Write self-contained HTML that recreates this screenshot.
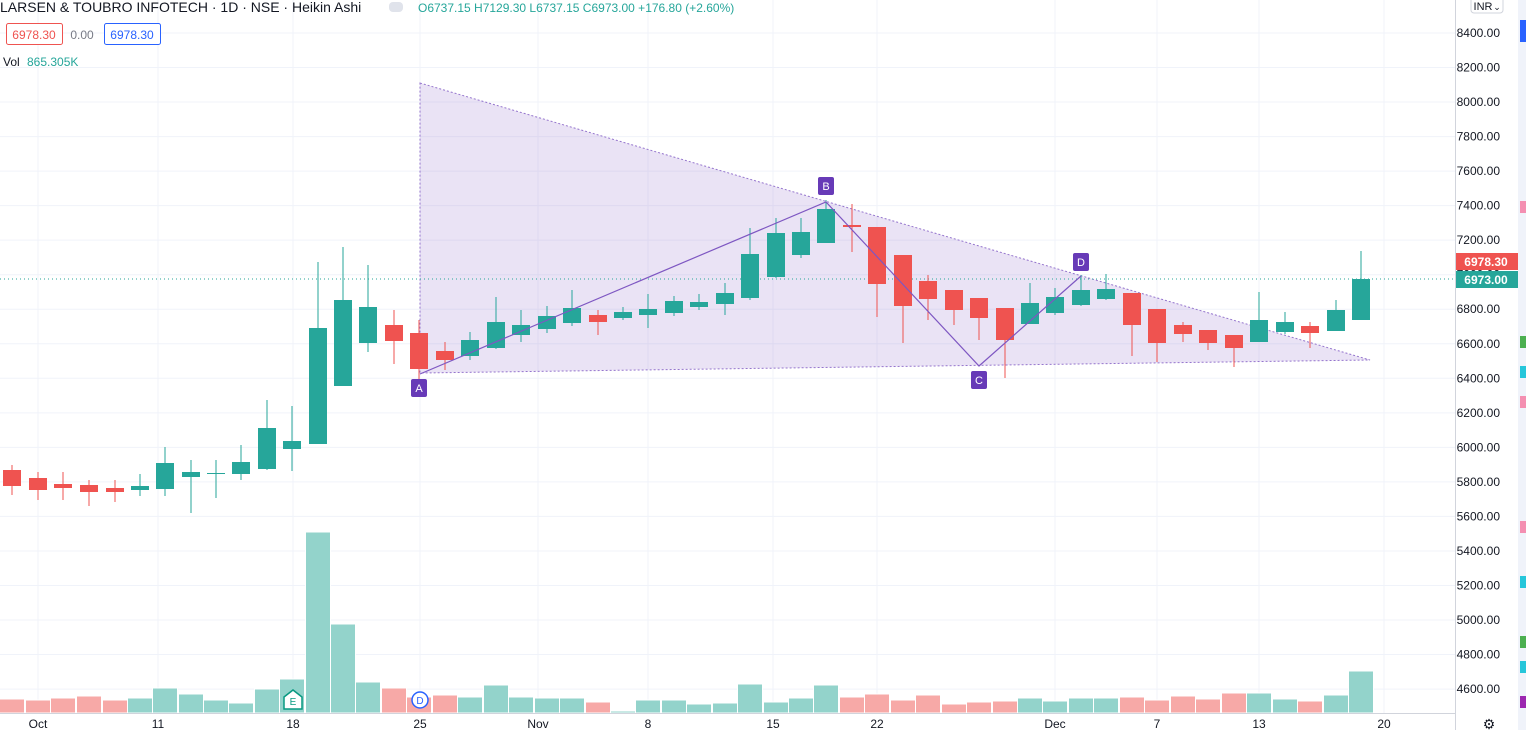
<!DOCTYPE html>
<html><head><meta charset="utf-8"><style>
body{margin:0;background:#fff;width:1526px;height:730px;overflow:hidden;font-family:"Liberation Sans",sans-serif}
svg{position:absolute;left:0;top:0}
</style></head><body>
<svg id="s" width="1526" height="730" xmlns="http://www.w3.org/2000/svg"></svg>
<script>
const c=[
[12,'r',470,486,465,495],[38,'r',478,490,472,500],[63,'r',484,488,472,500],[89,'r',485,492,480,506],[115,'r',488,492,480,502],
[140,'g',486,490,474,496],[165,'g',463,489,447,496],[191,'g',472,477,460,513],[216,'g',473,474,460,498],[241,'g',462,474,445,480],
[267,'g',428,469,400,470],[292,'g',441,449,406,471],[318,'g',328,444,262,444],[343,'g',300,386,247,386],[368,'g',307,343,265,352],
[394,'r',325,341,310,364],[419,'r',333,369,320,397],[445,'r',351,360,342,370],[470,'g',340,356,332,360],[496,'g',322,348,297,349],
[521,'g',325,335,310,342],[547,'g',316,329,306,333],[572,'g',308,323,290,326],[598,'r',315,322,310,335],[623,'g',312,318,307,320],
[648,'g',309,315,294,328],[674,'g',301,313,296,316],[699,'g',302,307,294,310],[725,'g',293,304,283,315],[750,'g',254,298,228,300],
[776,'g',233,277,218,278],[801,'g',232,255,218,258],[826,'g',209,243,200,243],[852,'r',225,227,204,252],[877,'r',227,284,227,317],
[903,'r',255,306,255,343],[928,'r',281,299,275,320],[954,'r',290,310,290,325],[979,'r',298,318,298,340],[1005,'r',308,340,308,378],
[1030,'g',303,324,283,324],[1055,'g',297,313,288,315],[1081,'g',290,305,275,306],[1106,'g',289,299,274,300],[1132,'r',293,325,293,356],
[1157,'r',309,343,309,362],[1183,'r',325,334,322,342],[1208,'r',330,343,330,350],[1234,'r',335,348,335,367],[1259,'g',320,342,292,342],
[1285,'g',322,332,312,334],[1310,'r',326,333,322,348],[1336,'g',310,331,300,331],[1361,'g',279,320,251,320]];
const v=[699,700,698,696,700,698,688,694,700,703,689,679,532,624,682,688,697,695,697,685,697,698,698,702,711,700,700,704,703,684,702,698,685,697,694,700,695,704,702,701,698,701,698,698,697,700,696,699,693,693,699,701,695,671];
let h='';
// grid
const px=[38,158,293,420,538,648,773,877,1055,1157,1259,1384];
px.forEach(x=>h+=`<line x1="${x}" y1="0" x2="${x}" y2="713" stroke="#f0f3fa"/>`);
for(let i=0;i<=19;i++){let y=33+i*34.53;h+=`<line x1="0" y1="${y}" x2="1455" y2="${y}" stroke="#f0f3fa"/>`;
h+=`<text x="1500" y="${y+4}" font-size="12" fill="#131722" text-anchor="end">${(8400-i*200)}.00</text>`;}
// volume
c.forEach((d,i)=>{h+=`<rect x="${d[0]-12.5}" y="${v[i]}" width="25" height="${713-v[i]}" fill="${d[1]=='g'?'#93d3cb':'#f7a9a7'}" stroke="#fff" stroke-width="1"/>`;});
// triangle
h+=`<polygon points="420,83 1370,360 420,373" fill="rgba(149,117,205,0.2)" stroke="#9575cd" stroke-dasharray="2,2"/>`;
// price line
h+=`<line x1="0" y1="279" x2="1455" y2="279" stroke="#26a69a" stroke-dasharray="1,3"/>`;
// candles
c.forEach(d=>{const col=d[1]=='g'?'#26a69a':'#ef5350';
h+=`<line x1="${d[0]}" y1="${d[4]}" x2="${d[0]}" y2="${d[5]}" stroke="${col}"/>`;
h+=`<rect x="${d[0]-9}" y="${d[2]}" width="18" height="${Math.max(1,d[3]-d[2])}" fill="${col}"/>`;});
// ABCD
h+=`<polyline points="420,374 826,202 979,366 1081,276" fill="none" stroke="#7e57c2" stroke-width="1.2"/>`;
[['A',419,388],['B',826,186],['C',979,380],['D',1081,262]].forEach(p=>{
h+=`<rect x="${p[1]-8}" y="${p[2]-9}" width="16" height="18" rx="2" fill="#673ab7"/><text x="${p[1]}" y="${p[2]+4}" font-size="11" fill="#fff" text-anchor="middle">${p[0]}</text>`;});
// markers
h+=`<path d="M284,697 L293,690 L302,697 L302,709 L284,709Z" fill="#fff" stroke="#089981" stroke-width="1.5"/><text x="293" y="705" font-size="10" fill="#089981" text-anchor="middle">E</text>`;
h+=`<circle cx="420" cy="700" r="8" fill="#fff" stroke="#2962ff" stroke-width="1.5"/><text x="420" y="704" font-size="10" fill="#2962ff" text-anchor="middle">D</text>`;
// axes
h+=`<line x1="1455.5" y1="0" x2="1455.5" y2="730" stroke="#d1d4dc"/><line x1="0" y1="713.5" x2="1455" y2="713.5" stroke="#d1d4dc"/>`;
h+=`<rect x="1518" y="0" width="8" height="730" fill="#f0f3fa"/>`;
[[20,'#2962ff',16],[201,'#f48fb1',6],[336,'#4caf50',6],[366,'#26c6da',6],[396,'#f48fb1',6],[521,'#f48fb1',6],[576,'#26c6da',6],[636,'#4caf50',6],[661,'#26c6da',6],[696,'#9c27b0',6]].forEach(m=>h+=`<rect x="1520" y="${m[0]}" width="6" height="${m[2]+6}" fill="${m[1]}"/>`);
h+=`<rect x="1456" y="253" width="62" height="17" fill="#ef5350"/><text x="1486" y="266" font-size="12" font-weight="bold" fill="#fff" text-anchor="middle">6978.30</text>`;
h+=`<rect x="1456" y="271" width="62" height="17" fill="#26a69a"/><text x="1486" y="284" font-size="12" font-weight="bold" fill="#fff" text-anchor="middle">6973.00</text>`;
h+=`<rect x="1471" y="-4" width="32" height="17" rx="3" fill="#fff" stroke="#d1d4dc"/><text x="1483" y="10" font-size="11" fill="#131722" text-anchor="middle">INR</text><text x="1497" y="10" font-size="9" fill="#131722" text-anchor="middle">⌄</text>`;
h+=`<text x="1489" y="729" font-size="14" fill="#131722" text-anchor="middle">⚙</text>`;
const lb=['Oct','11','18','25','Nov','8','15','22','Dec','7','13','20'];
px.forEach((x,i)=>h+=`<text x="${x}" y="728" font-size="12" fill="#131722" text-anchor="middle">${lb[i]}</text>`);
// header
h+=`<text x="0" y="12" font-size="14" fill="#131722">LARSEN &amp; TOUBRO INFOTECH · 1D · NSE · Heikin Ashi</text>`;
h+=`<rect x="389" y="2" width="14" height="10" rx="4" fill="#e0e3eb"/>`;
h+=`<text x="418" y="12" font-size="12" fill="#26a69a">O6737.15 H7129.30 L6737.15 C6973.00 +176.80 (+2.60%)</text>`;
h+=`<rect x="6.5" y="23.5" width="56" height="21" rx="2" fill="#fff" stroke="#ef5350"/><text x="34" y="39" font-size="12" fill="#ef5350" text-anchor="middle">6978.30</text>`;
h+=`<text x="82" y="39" font-size="12" fill="#787b86" text-anchor="middle">0.00</text>`;
h+=`<rect x="68.5+0" y="0" width="0" height="0"/>`;
h+=`<rect x="104.5" y="23.5" width="56" height="21" rx="2" fill="#fff" stroke="#2962ff"/><text x="132" y="39" font-size="12" fill="#2962ff" text-anchor="middle">6978.30</text>`;
h+=`<text x="3" y="66" font-size="12" fill="#131722">Vol</text><text x="27" y="66" font-size="12" fill="#26a69a">865.305K</text>`;
document.getElementById('s').innerHTML=h;
</script>
</body></html>
